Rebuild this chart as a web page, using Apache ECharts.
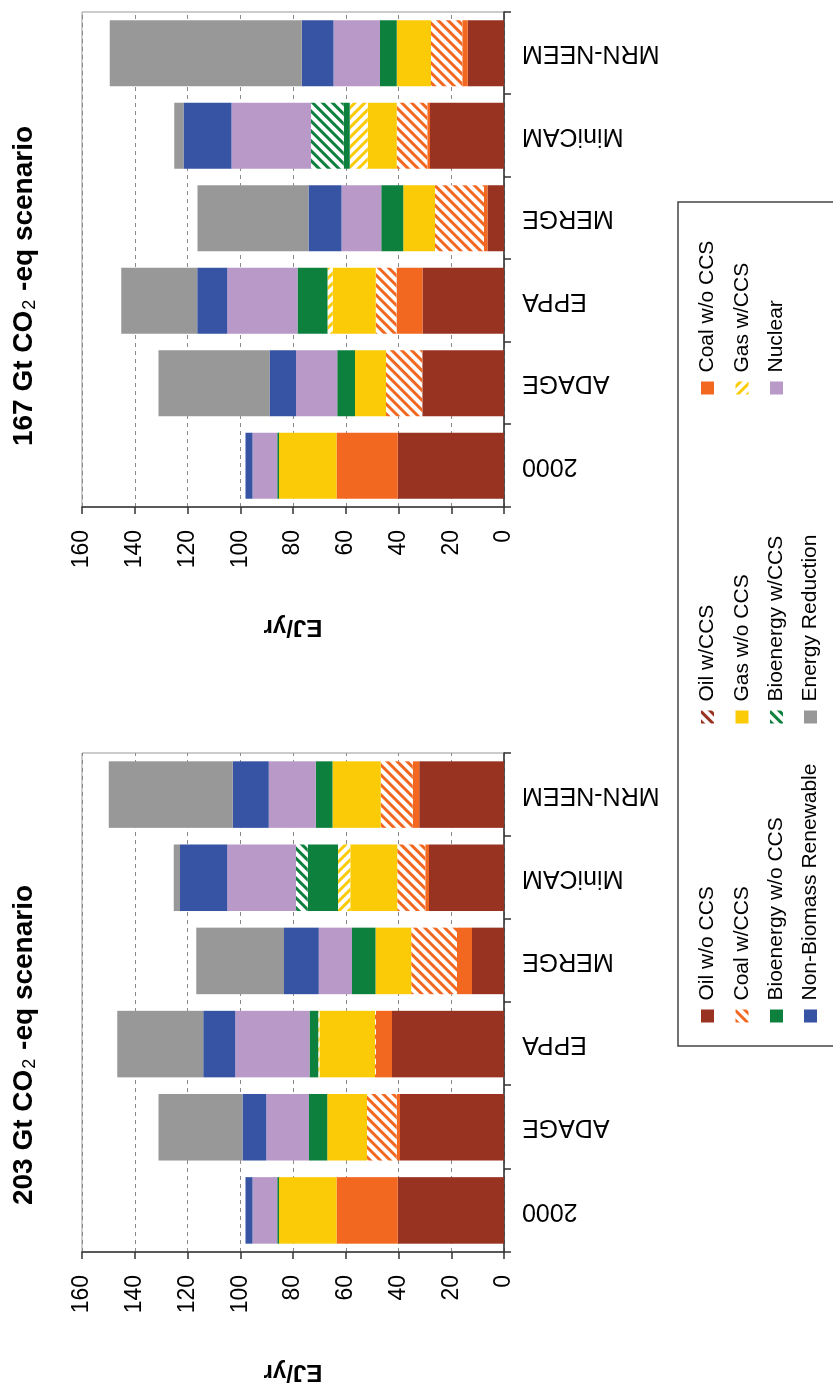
<!DOCTYPE html>
<html>
<head>
<meta charset="utf-8">
<script src="https://cdn.jsdelivr.net/npm/echarts@6/dist/echarts.min.js"></script>
<style>
html,body{margin:0;padding:0;background:#fff;}
body{width:833px;height:1396px;overflow:hidden;position:relative;}
#chart{position:absolute;left:0;top:0;width:1396px;height:833px;transform-origin:0 0;transform:translateY(1396px) rotate(-90deg);}
</style>
</head>
<body>
<div id="chart"></div>
<script>
// ---------- data ----------
const categories = ['2000', 'ADAGE', 'EPPA', 'MERGE', 'MiniCAM', 'MRN-NEEM'];
const seriesNames = ['Oil w/o CCS', 'Oil w/CCS', 'Coal w/o CCS', 'Coal w/CCS', 'Gas w/o CCS', 'Gas w/CCS',
  'Bioenergy w/o CCS', 'Bioenergy w/CCS', 'Nuclear', 'Non-Biomass Renewable', 'Energy Reduction'];
const valueTicks = [0, 20, 40, 60, 80, 100, 120, 140, 160];

// 203 Gt CO2-eq scenario (EJ/yr)
const oilNoCCS_203   = [40.3, 39.4, 42.5, 12.1, 28.4, 32.1];
const oilCCS_203     = [0, 0, 0, 0, 0, 0];
const coalNoCCS_203  = [23.2, 1.3, 6.0, 5.7, 1.5, 2.5];
const coalCCS_203    = [0, 11.2, 0.4, 17.4, 10.6, 12.1];
const gasNoCCS_203   = [21.8, 15.1, 21.1, 13.5, 17.8, 18.3];
const gasCCS_203     = [0, 0, 0.4, 0, 4.6, 0];
const bioNoCCS_203   = [0.7, 6.9, 3.3, 8.9, 11.5, 6.4];
const bioCCS_203     = [0, 0, 0, 0, 4.5, 0];
const nuclear_203    = [9.4, 16.2, 28.2, 12.6, 26.0, 17.8];
const renewable_203  = [2.6, 9.0, 12.1, 13.2, 17.9, 13.6];
const reduction_203  = [0, 31.9, 32.6, 33.3, 2.4, 47.1];

// 167 Gt CO2-eq scenario (EJ/yr)
const oilNoCCS_167   = [40.3, 31.0, 30.9, 6.3, 28.1, 13.7];
const oilCCS_167     = [0, 0, 0, 0, 0, 0];
const coalNoCCS_167  = [23.2, 0, 9.9, 1.3, 1.0, 2.1];
const coalCCS_167    = [0, 13.7, 7.8, 18.6, 11.6, 11.9];
const gasNoCCS_167   = [21.8, 11.8, 16.3, 12.0, 11.0, 13.0];
const gasCCS_167     = [0, 0, 2.0, 0, 6.8, 0];
const bioNoCCS_167   = [0.7, 6.7, 11.4, 8.3, 2.3, 6.3];
const bioCCS_167     = [0, 0, 0, 0, 12.4, 0];
const nuclear_167    = [9.4, 15.7, 26.6, 15.1, 30.1, 17.6];
const renewable_167  = [2.6, 10.0, 11.4, 12.5, 18.2, 12.1];
const reduction_167  = [0, 42.1, 28.8, 42.1, 3.5, 72.8];

const data203 = [oilNoCCS_203, oilCCS_203, coalNoCCS_203, coalCCS_203, gasNoCCS_203, gasCCS_203,
  bioNoCCS_203, bioCCS_203, nuclear_203, renewable_203, reduction_203];
const data167 = [oilNoCCS_167, oilCCS_167, coalNoCCS_167, coalCCS_167, gasNoCCS_167, gasCCS_167,
  bioNoCCS_167, bioCCS_167, nuclear_167, renewable_167, reduction_167];

// ---------- styles ----------
const FONT = "'Liberation Sans', Arial, sans-serif";
function solid(c) { return { color: c }; }
function hatch(c, rot) {
  return { color: '#ffffff', decal: { symbol: 'rect', symbolSize: 1, dashArrayX: [1, 0], dashArrayY: [3, 4], rotation: rot, color: c } };
}
const HR = -Math.PI / 4, HL = Math.PI / 4;
const itemStyles = [
  solid('#983321'), hatch('#983321', HR),
  solid('#F36821'), hatch('#F36821', HR),
  solid('#FCCB08'), hatch('#FCCB08', HL),
  solid('#0E803E'), hatch('#0E803E', HR),
  solid('#B899C8'), solid('#3753A4'), solid('#989898')
];

const grids = [
  { left: 144, top: 82, width: 499, height: 422 },
  { left: 889, top: 82, width: 495, height: 422 }
];

function catAxis(i) {
  return {
    type: 'category', gridIndex: i, data: categories,
    axisLine: { show: true, lineStyle: { color: '#333', width: 1.5 } },
    axisTick: { show: true, length: 7, alignWithLabel: false, lineStyle: { color: '#333', width: 1.5 } },
    axisLabel: { rotate: 90, fontSize: 25, color: '#000', margin: 18, fontFamily: FONT }
  };
}
function valAxis(i) {
  return {
    type: 'value', gridIndex: i, min: 0, max: 160, interval: 20,
    name: 'EJ/yr', nameLocation: 'middle', nameRotate: 90, nameGap: 108,
    nameTextStyle: { fontSize: 24, fontWeight: 'bold', color: '#000', fontFamily: FONT },
    axisLine: { show: true, lineStyle: { color: '#333', width: 1.5 } },
    axisTick: { show: true, length: 7, lineStyle: { color: '#333', width: 1.5 } },
    axisLabel: { fontSize: 23, color: '#000', margin: 23, fontFamily: FONT,
      formatter: v => valueTicks.indexOf(v) >= 0 ? String(v) : '' },
    splitLine: { show: true, lineStyle: { color: '#8a8a8a', type: [4, 4], width: 1 } }
  };
}

const series = [];
[data203, data167].forEach((set, gi) => {
  set.forEach((arr, k) => {
    series.push({
      name: seriesNames[k], type: 'bar', stack: 'g' + gi,
      xAxisIndex: gi, yAxisIndex: gi, data: arr,
      barCategoryGap: '20%', itemStyle: itemStyles[k],
      emphasis: { disabled: true }, silent: true
    });
  });
});

// legend layout (row, column) for each item
const legendRowY = [708, 742.5, 777, 811];
const legendColX = [380, 679, 1008];
const legendCells = [[0,0],[0,1],[0,2],[1,0],[1,1],[1,2],[2,0],[2,1],[2,2],[3,0],[3,1]];
const legends = seriesNames.map((n, k) => ({
  data: [n], orient: 'horizontal', selectedMode: false, padding: 0,
  left: legendColX[legendCells[k][1]] - 6.5, top: legendRowY[legendCells[k][0]] - 11,
  itemWidth: 13, itemHeight: 13, icon: 'rect',
  textStyle: { fontSize: 21, color: '#000', fontFamily: FONT, padding: [0, 0, 0, 4] }
}));

function titleText(x, label) {
  return {
    type: 'text', x: x, y: 24, silent: true,
    style: {
      text: label + ' Gt CO{sub|2} -eq scenario',
      fontSize: 28, fontWeight: 'bold', fontFamily: FONT, fill: '#000',
      align: 'center', verticalAlign: 'middle', textAlign: 'center', textVerticalAlign: 'middle',
      rich: { sub: { fontSize: 18, fontWeight: 'normal', fontFamily: FONT, fill: '#000', padding: [12, 1, 0, 1] } }
    }
  };
}

const chart = echarts.init(document.getElementById('chart'), null, { renderer: 'canvas' });
chart.setOption({
  animation: false,
  backgroundColor: '#fff',
  grid: grids.map(g => Object.assign({ show: true, borderColor: '#999', borderWidth: 1, backgroundColor: 'transparent' }, g)),
  xAxis: [catAxis(0), catAxis(1)],
  yAxis: [valAxis(0), valAxis(1)],
  legend: legends,
  series: series,
  graphic: [
    { type: 'rect', silent: true, shape: { x: 350, y: 678, width: 844, height: 220 },
      style: { fill: 'none', stroke: '#444', lineWidth: 1.5 } },
    titleText(351, '203'),
    titleText(1110, '167')
  ]
});
</script>
</body>
</html>
